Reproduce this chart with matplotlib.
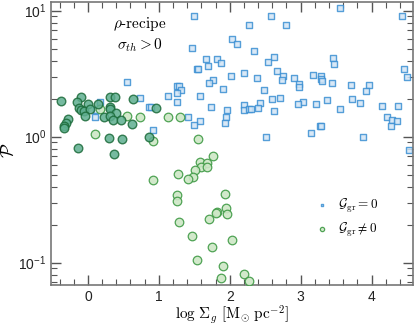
import matplotlib
matplotlib.use('Agg')
import matplotlib.pyplot as plt
import numpy as np

plt.rcParams['mathtext.fontset'] = 'cm'
plt.rcParams['font.family'] = ['Liberation Sans', 'DejaVu Sans']

# Ggr = 0 runs (blue squares)
blue_x = [1.499, 1.467, 1.664, 1.542, 1.556, 1.687, 0.550, 1.255, 1.288, 1.316,
          1.255, 1.574, 1.128, 0.738, 0.173, 1.255, 0.865, 0.893, 1.735, 0.117,
          0.103, 1.410, 1.584, 1.492, 0.917, 3.549, 2.581, 4.429, 2.275, 2.797,
          2.035, 2.106, 2.341, 1.824, 1.876, 2.623, 2.547, 3.450, 3.464, 4.461,
          4.499, 2.200, 2.025, 2.670, 2.755, 2.731, 2.384, 2.906, 3.173, 3.286,
          3.286, 3.305, 1.763, 1.711, 2.976, 2.984, 3.441, 3.709, 3.968, 3.921,
          1.908, 2.487, 2.708, 2.595, 3.718, 3.371, 3.032, 2.962, 2.430, 3.220,
          3.831, 2.195, 2.200, 2.271, 2.303, 2.402, 1.965, 2.623, 3.554, 4.151,
          4.372, 4.217, 4.282, 4.358, 4.274, 1.951, 1.927, 3.276, 3.291, 3.150,
          2.511, 3.887, 4.522]
blue_y = [9.08, 5.01, 4.14, 3.45, 3.42, 3.66, 2.73, 2.53, 2.53, 2.35,
          2.21, 2.12, 2.10, 2.04, 1.87, 1.90, 1.73, 1.71, 1.71, 1.63,
          1.44, 1.44, 1.34, 1.23, 1.12, 10.45, 9.12, 9.12, 7.70, 7.70,
          5.99, 5.44, 4.81, 4.16, 3.85, 4.31, 3.94, 4.24, 3.75, 3.43,
          2.96, 3.22, 3.05, 3.34, 3.05, 2.83, 2.94, 2.94, 3.09, 3.03,
          2.85, 2.77, 2.82, 2.65, 2.63, 2.47, 2.65, 2.59, 2.59, 2.29,
          2.38, 2.35, 2.04, 2.00, 2.00, 1.94, 1.89, 1.83, 1.85, 1.82,
          1.86, 1.79, 1.63, 1.66, 1.66, 1.70, 1.64, 1.59, 1.66, 1.76,
          1.76, 1.44, 1.36, 1.33, 1.22, 1.42, 1.28, 1.21, 1.22, 1.06,
          1.00, 0.995, 0.784]

# Ggr != 0 runs, dark subset
dark_x = [-0.381, -0.094, -0.158, -0.003, -0.130, -0.094, -0.062, 0.023, -0.038, 0.138,
          0.305, 0.385, 0.307, 0.315, 0.395, 0.227, 0.315, 0.357, 0.465, 0.629,
          0.625, -0.274, -0.316, -0.334, -0.331, 0.959, 0.865, 0.293, 0.484, -0.141,
          0.371]
dark_y = [1.92, 2.05, 1.90, 1.82, 1.68, 1.63, 1.61, 1.67, 1.46, 1.80,
          2.06, 2.05, 1.71, 1.65, 1.55, 1.43, 1.45, 1.36, 1.36, 1.99,
          1.26, 1.37, 1.28, 1.22, 1.18, 1.68, 0.989, 0.982, 0.954, 0.806,
          0.733]

# Ggr != 0 runs, light subset
light_x = [0.173, 0.554, 0.733, 1.126, 1.302, 0.093, 0.914, 1.556, 1.763, 1.577,
           1.673, 1.591, 1.683, 1.504, 1.489, 1.410, 1.267, 0.911, 1.255, 1.255,
           1.927, 1.288, 1.951, 1.961, 1.821, 1.803, 1.707, 1.467, 2.031, 1.749,
           1.537, 1.904, 1.873, 2.197, 2.271]
light_y = [1.65, 1.47, 1.42, 1.44, 1.44, 1.05, 0.929, 0.950, 0.703, 0.624,
           0.618, 0.570, 0.573, 0.544, 0.482, 0.459, 0.506, 0.453, 0.343, 0.310,
           0.353, 0.212, 0.273, 0.243, 0.253, 0.247, 0.222, 0.162, 0.151, 0.134,
           0.105, 0.0936, 0.0752, 0.0809, 0.0716]

fig = plt.figure(figsize=(4.15, 3.26), dpi=100)
ax = fig.add_axes([0.123, 0.126, 0.873, 0.869])

ax.scatter(blue_x, blue_y, marker='s', s=17, facecolor='#d3e5f5', edgecolor='#3b8fd3',
           linewidth=1.0, alpha=0.85, label=r'$\mathcal{G}_{\rm gr}=0$', zorder=2)
ax.scatter(light_x, light_y, marker='o', s=38, facecolor='#cde7c6', edgecolor='#3f9a45',
           linewidth=0.9, alpha=0.9, label=r'$\mathcal{G}_{\rm gr}\neq 0$', zorder=3)
ax.scatter(dark_x, dark_y, marker='o', s=38, facecolor='#5eae8f', edgecolor='#1c6b3a',
           linewidth=1.0, alpha=0.85, zorder=3)

ax.set_yscale('log')
ax.set_xlim(-0.52, 4.59)
ax.set_ylim(0.0665, 11.8)

ax.set_xlabel(r'$\log\,\Sigma_g\ [\mathrm{M}_{\odot}\ \mathrm{pc}^{-2}]$', fontsize=11, labelpad=0)
ax.set_ylabel(r'$\mathcal{P}$', fontsize=13)
ax.yaxis.set_label_coords(-0.092, 0.475)

ax.text(0.245, 0.922, r'$\rho$-recipe', transform=ax.transAxes, ha='center', va='center',
        fontsize=11, family='cmr10')
ax.text(0.245, 0.845, r'$\sigma_{th}>0$', transform=ax.transAxes, ha='center', va='center',
        fontsize=11)

ax.set_xticks([0, 1, 2, 3, 4])
ax.set_xticks(np.arange(-0.4, 4.6, 0.2), minor=True)
ax.tick_params(which='both', direction='in', top=True, right=True, colors='#555555',
               labelcolor='#222222', labelsize=10)
ax.tick_params(which='major', length=7, width=1)
ax.tick_params(which='minor', length=4, width=0.8)
for sp in ax.spines.values():
    sp.set_color('#777777')
    sp.set_linewidth(1.2)

leg = ax.legend(loc='center left', bbox_to_anchor=(0.733, 0.237), frameon=False,
                fontsize=9.5, markerscale=0.5, handlelength=0.8, handletextpad=0.8,
                labelspacing=0.45, borderpad=0, borderaxespad=0)

fig.savefig('out.png', dpi=100)
